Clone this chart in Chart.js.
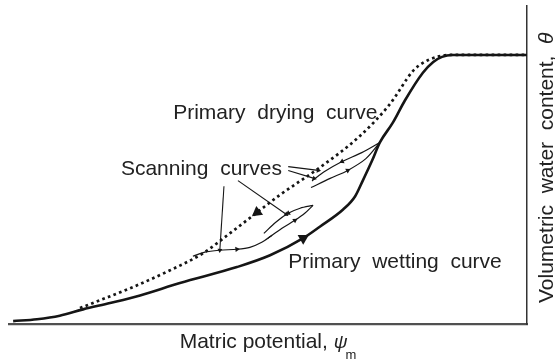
<!DOCTYPE html>
<html>
<head>
<meta charset="utf-8">
<script src="https://cdn.jsdelivr.net/npm/chart.js@4.4.1/dist/chart.umd.min.js"></script>
<style>
  html, body { margin: 0; padding: 0; background: #fff; }
  #wrap { width: 555px; height: 364px; }
</style>
</head>
<body>
<div id="wrap"><canvas id="retention" width="555" height="364"></canvas></div>
<script>
// Soil water retention: primary curves (x = matric potential, y = water content, both 0-100)
const primaryWetting = [
  [0.8, 0.9], [5.4, 1.5], [9.8, 2.6], [14.3, 4.6], [19.5, 6.6], [25.3, 9.0],
  [33.0, 12.9], [44.0, 17.9], [50.4, 21.6], [56.8, 27.0], [60.0, 30.6],
  [64.5, 36.0], [66.8, 40.1], [68.3, 45.1], [70.1, 51.4], [71.6, 57.1],
  [74.1, 63.3], [76.4, 70.2], [79.9, 79.0], [81.9, 82.4], [83.6, 84.0],
  [85.5, 84.6], [100, 84.6]
];
const primaryDrying = [
  [13.7, 5.0], [17.6, 7.5], [23.9, 11.6], [31.1, 16.9], [37.5, 22.3],
  [42.7, 28.6], [47.9, 35.1], [52.3, 40.6], [60.0, 49.2], [67.8, 59.2],
  [73.6, 69.3], [78.0, 79.6], [79.9, 82.1], [82.6, 84.0], [85.1, 84.6], [100, 84.6]
];

// scanning curves
const scanLowWet = [[35.5, 21.3], [37.8, 22.6], [40.7, 23.2], [44.0, 23.5], [46.5, 24.1], [48.8, 25.7], [50.8, 27.9]];
const scanMidWet = [[50.0, 27.0], [52.7, 30.1], [55.2, 32.6], [57.1, 34.8], [58.7, 37.3]];
const scanMidDry = [[58.7, 37.3], [56.2, 36.4], [53.9, 34.8], [51.5, 32.0], [49.2, 28.5]];
const scanUpDry = [[71.6, 57.1], [68.1, 53.9], [64.3, 51.1], [61.0, 48.0], [58.5, 45.0]];
const scanUpWet = [[58.3, 42.9], [62.0, 45.8], [65.4, 48.3], [68.9, 52.0], [71.6, 57.1]];

// pointer lines from the "Scanning curves" label
const pointers = [
  [[53.9, 49.5], [59.7, 48.3]],
  [[53.9, 48.3], [58.9, 45.8]],
  [[44.2, 45.1], [53.5, 34.5]],
  [[41.5, 43.3], [40.7, 23.2]]
];

// text notes anchored at data positions
const notes = [
  { text: 'Primary  drying  curve', at: [31.7, 64.6] },
  { text: 'Scanning  curves', at: [21.6, 46.7] },
  { text: 'Primary  wetting  curve', at: [53.9, 17.6] }
];
const xTitle = 'Matric potential, ';
const yTitle = 'Volumetric  water  content,  ';

const INK = '#151515';
const FONT = '"Liberation Sans", Arial, sans-serif';

const toXY = arr => arr.map(p => ({ x: p[0], y: p[1] }));

// rotate a triangle marker along the line direction at that point
function arrowAngle(ctx) {
  const ds = ctx.dataset, i = ctx.dataIndex;
  const sx = ctx.chart.scales.x, sy = ctx.chart.scales.y;
  const a = ds.data[Math.max(i - 1, 0)];
  const b = ds.data[Math.min(i + 1, ds.data.length - 1)];
  let dx = sx.getPixelForValue(b.x) - sx.getPixelForValue(a.x);
  let dy = sy.getPixelForValue(b.y) - sy.getPixelForValue(a.y);
  if (ds.reverseArrow) { dx = -dx; dy = -dy; }
  return Math.atan2(dx, -dy) * 180 / Math.PI;
}

function curve(data, opts) {
  const arrows = opts.arrows || [];
  const size = opts.arrowSize || 3;
  return Object.assign({
    data: toXY(data),
    showLine: true,
    borderColor: INK,
    backgroundColor: INK,
    borderWidth: 1.2,
    tension: 0.3,
    pointStyle: 'triangle',
    pointRadius: c => arrows.includes(c.dataIndex) ? size : 0,
    pointBorderWidth: 0,
    pointRotation: arrowAngle
  }, opts);
}

const datasets = [
  curve(primaryWetting, { borderWidth: 2.6, cubicInterpolationMode: 'monotone', arrows: [9], arrowSize: 6.5 }),
  curve(primaryDrying, { borderWidth: 2.7, borderDash: [2.7, 3.3], cubicInterpolationMode: 'monotone', arrows: [6], arrowSize: 6.5, reverseArrow: true }),
  curve(scanLowWet, { arrows: [3] }),
  curve(scanMidWet, { arrows: [2] }),
  curve(scanMidDry, { arrows: [2] }),
  curve(scanUpDry, { arrows: [2] }),
  curve(scanUpWet, { arrows: [2] })
];
pointers.forEach(p => datasets.push(curve(p, { borderWidth: 1.1, tension: 0, arrows: [1], arrowSize: 2.8 })));

const notesPlugin = {
  id: 'notes',
  afterDraw(chart) {
    const { ctx, scales: { x, y }, chartArea } = chart;
    ctx.save();
    ctx.fillStyle = '#222';
    ctx.textBaseline = 'alphabetic';
    ctx.font = '21px ' + FONT;
    notes.forEach(n => ctx.fillText(n.text, x.getPixelForValue(n.at[0]), y.getPixelForValue(n.at[1])));

    // x title with psi subscript m
    const cx = (chartArea.left + chartArea.right) / 2;
    const by = chartArea.bottom + 24;
    const w1 = ctx.measureText(xTitle).width;
    ctx.font = 'italic 19px ' + FONT;
    const w2 = ctx.measureText('ψ').width;
    ctx.font = '13px ' + FONT;
    const w3 = ctx.measureText('m').width;
    let tx = cx - (w1 + w2 + w3) / 2 + 1;
    ctx.font = '21px ' + FONT;
    ctx.fillText(xTitle, tx, by);
    ctx.font = 'italic 19px ' + FONT;
    ctx.fillText('ψ', tx + w1, by);
    ctx.font = '13px ' + FONT;
    ctx.fillText('m', tx + w1 + w2 - 2, by + 11);

    // y title on the right, reading upward
    ctx.translate(chartArea.right + 26, 303);
    ctx.rotate(-Math.PI / 2);
    ctx.font = '21px ' + FONT;
    ctx.fillText(yTitle, 0, 0);
    const wy = ctx.measureText(yTitle).width;
    ctx.font = 'italic 21px ' + FONT;
    ctx.fillText('θ', wy, 0);
    ctx.restore();
  }
};

new Chart(document.getElementById('retention'), {
  type: 'scatter',
  data: { datasets },
  options: {
    responsive: false,
    animation: false,
    events: [],
    layout: { padding: { left: 9, right: 28, top: 6, bottom: 40 } },
    plugins: { legend: { display: false }, tooltip: { enabled: false } },
    scales: {
      x: {
        type: 'linear', min: 0, max: 100, position: 'bottom',
        ticks: { display: false },
        grid: { display: false, drawTicks: false, tickLength: 0 },
        border: { display: true, color: '#505050', width: 2.2 }
      },
      y: {
        type: 'linear', min: 0, max: 100, position: 'right',
        ticks: { display: false },
        grid: { display: false, drawTicks: false, tickLength: 0 },
        border: { display: true, color: '#333', width: 1.5 }
      }
    }
  },
  plugins: [notesPlugin]
});
</script>
</body>
</html>
